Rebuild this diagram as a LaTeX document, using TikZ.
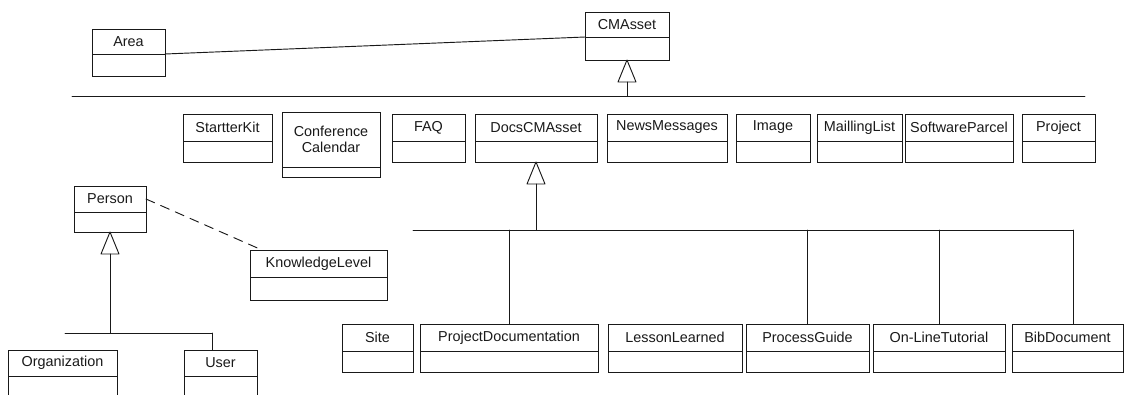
\documentclass[tikz,border=0pt]{standalone}
\usepackage{fontspec}
\setmainfont{Liberation Sans}
\usetikzlibrary{positioning}

\newcommand{\umlclass}[7]{%
  \node[clsname, minimum width=(#4-#2)*0.75pt, minimum height=(#5-#3)*0.75pt, anchor=north west] (#1) at (#2,#3) {#7};
  \node[clsattr, minimum width=(#4-#2)*0.75pt, minimum height=(#6-#5)*0.75pt, below=0pt of #1] (#1-attr) {};
}

\begin{document}
\begin{tikzpicture}[x=0.75pt,y=-0.75pt,
  clsname/.style={draw=drawColor, line width=0.7pt, inner sep=0pt, outer sep=0pt, align=center, text=drawColor, font=\fontsize{10.8}{11.5}\selectfont},
  clsattr/.style={draw=drawColor, line width=0.7pt, inner sep=0pt, outer sep=0pt},
  link/.style={draw=drawColor, line width=0.7pt, line cap=round},
  gentri/.style={draw=drawColor, line width=0.7pt, line join=round, fill=white}]
\definecolor{drawColor}{RGB}{25,25,25}
\path[use as bounding box] (0,0) rectangle (1125,394);
\clip (0,0) rectangle (1125,394);

\umlclass{Area}{92}{29}{165}{54}{76}{Area}
\umlclass{CMAsset}{585}{12}{669}{37}{60}{CMAsset}

\umlclass{StartterKit}{183}{114}{272}{141}{162}{StartterKit}
\umlclass{Calendar}{282}{112}{380}{167}{177}{Conference\\Calendar}
\umlclass{FAQ}{392}{114}{465}{141}{162}{FAQ}
\umlclass{DocsCMAsset}{475}{114}{597}{141}{162}{DocsCMAsset}
\umlclass{NewsMessages}{607}{114}{727}{141}{162}{NewsMessages}
\umlclass{Image}{736}{114}{810}{141}{162}{Image}
\umlclass{MaillingList}{817}{114}{902}{141}{162}{MaillingList}
\umlclass{SoftwareParcel}{905}{114}{1013}{141}{162}{SoftwareParcel}
\umlclass{Project}{1022}{114}{1095}{141}{162}{Project}

\umlclass{Person}{74}{186}{146}{212}{232}{Person}
\umlclass{KnowledgeLevel}{250}{250}{387}{277}{300}{KnowledgeLevel}
\umlclass{Organization}{8}{350}{117}{376}{400}{Organization}
\umlclass{User}{184}{350}{257}{376}{400}{User}

\umlclass{Site}{342}{324}{413}{351}{372}{Site}
\umlclass{ProjectDoc}{420}{324}{598}{351}{372}{ProjectDocumentation}
\umlclass{LessonLearned}{608}{324}{742}{351}{372}{LessonLearned}
\umlclass{ProcessGuide}{746}{324}{869}{351}{372}{ProcessGuide}
\umlclass{Tutorial}{873}{324}{1005}{351}{372}{On-LineTutorial}
\umlclass{BibDocument}{1012}{324}{1123}{351}{372}{BibDocument}

\path[link] (Area.south east) -- (CMAsset.south west);
\path[link,dash pattern=on 7pt off 5pt] (Person.east) -- ([xshift=9pt]KnowledgeLevel.north west);

\path[gentri] (CMAsset-attr.south) -- ++(9,22) -- ++(-18,0) -- cycle;
\coordinate (cmGen) at ([yshift=-16.5pt]CMAsset-attr.south);
\coordinate (topL) at (72,96);
\coordinate (topR) at (1085,96);
\path[link] (topL) -- (topR);
\path[link] (cmGen) -- (cmGen |- topL);

\path[gentri] (DocsCMAsset-attr.south) -- ++(9,22) -- ++(-18,0) -- cycle;
\coordinate (docGen) at ([yshift=-16.5pt]DocsCMAsset-attr.south);
\coordinate (docL) at (413,230);
\coordinate (docR) at (1073,230);
\path[link] (docL) -- (docR);
\path[link] (docGen) -- (docGen |- docL);
\path[link] (docL -| ProjectDoc.north) -- (ProjectDoc.north);
\path[link] (docL -| ProcessGuide.north) -- (ProcessGuide.north);
\path[link] (docL -| Tutorial.north) -- (Tutorial.north);
\path[link] (docR) -- (docR |- BibDocument.north);

\path[gentri] (Person-attr.south) -- ++(9,22) -- ++(-18,0) -- cycle;
\coordinate (perGen) at ([yshift=-16.5pt]Person-attr.south);
\coordinate (perL) at (65,333);
\coordinate (perR) at (212,333);
\path[link] (perGen) -- (perGen |- perL);
\path[link] (perL) -- (perR);
\path[link] (perR) -- (perR |- User.north);
\end{tikzpicture}
\end{document}
